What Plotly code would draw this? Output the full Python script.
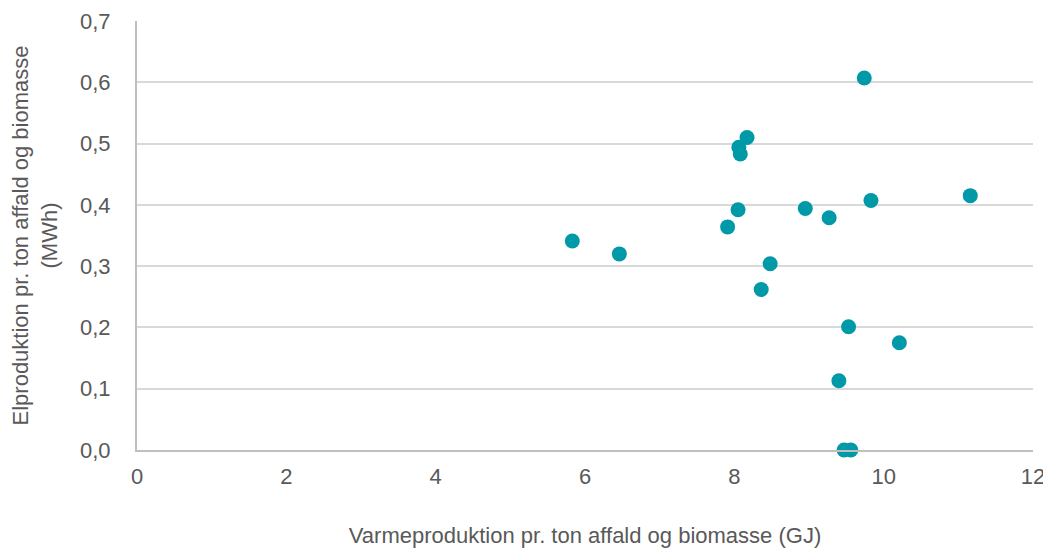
import plotly.graph_objects as go

heat_gj = [9.74, 8.17, 8.06, 8.08, 11.16, 9.83, 8.05, 8.95, 9.27, 7.91,
           5.83, 6.46, 8.48, 8.36, 9.53, 10.21, 9.40, 9.47, 9.56]
power_mwh = [0.607, 0.510, 0.494, 0.483, 0.415, 0.407, 0.392, 0.394, 0.379, 0.364,
             0.341, 0.320, 0.304, 0.262, 0.201, 0.175, 0.113, 0.0, 0.0]

x_title = "Varmeproduktion pr. ton affald og biomasse (GJ)"
y_title = "Elproduktion pr. ton affald og biomasse<br>(MWh)"

text_color = "#595959"
font_family = "Arial, Liberation Sans, sans-serif"

fig = go.Figure()
fig.add_trace(go.Scatter(
    x=heat_gj, y=power_mwh, mode="markers",
    marker=dict(color="#0099A7", size=15, line=dict(width=0)),
    cliponaxis=False, showlegend=False,
))

# page body has an 8px default margin; figure is sized to fill the rest
fig.update_layout(
    width=1043, height=540,
    margin=dict(l=129, r=18, t=13, b=98),
    paper_bgcolor="white", plot_bgcolor="white",
    separators=",.",
    font=dict(family=font_family, color=text_color, size=22),
    xaxis=dict(
        range=[0, 12], dtick=2, tick0=0,
        showgrid=False, zeroline=False,
        showline=True, linecolor="#BFBFBF", linewidth=2,
        ticks="", ticklabelstandoff=6,
        tickfont=dict(size=22, color=text_color),
        title=dict(text=x_title, font=dict(size=22, color=text_color), standoff=54),
        automargin=False,
        fixedrange=True,
    ),
    yaxis=dict(
        range=[0, 0.7], dtick=0.1, tick0=0, tickformat=".1f",
        showgrid=True, gridcolor="#D9D9D9", gridwidth=1.5,
        zeroline=False,
        showline=True, linecolor="#BFBFBF", linewidth=2,
        ticks="", ticklabelstandoff=20,
        tickfont=dict(size=22, color=text_color),
        title=dict(text=y_title, font=dict(size=22, color=text_color), standoff=18),
        automargin=False,
        fixedrange=True,
    ),
)

fig.write_html("out.html")
